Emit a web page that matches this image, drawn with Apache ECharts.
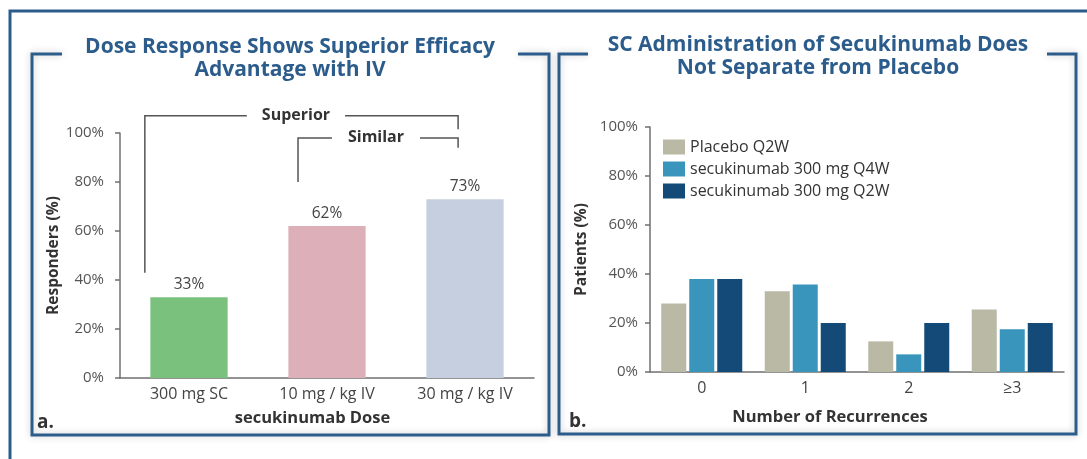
<!DOCTYPE html>
<html>
<head>
<meta charset="utf-8">
<script src="https://cdn.jsdelivr.net/npm/echarts@6/dist/echarts.min.js"></script>
<style>
  html, body { margin: 0; padding: 0; background: #fff; }
  #main { width: 1087px; height: 459px; }
</style>
</head>
<body>
<div id="main"></div>
<script>
// panel a
var doseCats = ['300 mg SC', '10 mg / kg IV', '30 mg / kg IV'];
var responders = [33, 62, 73];
var doseColors = ['#7bc17e', '#ddafb8', '#c5cfdf'];

// panel b
var recurCats = ['0', '1', '2', '≥3'];
var placeboQ2W = [28, 33, 12.5, 25.5];
var secQ4W = [38, 35.7, 7.2, 17.5];
var secQ2W = [38, 20, 20, 20];
var seriesNames = ['Placebo Q2W', 'secukinumab 300 mg Q4W', 'secukinumab 300 mg Q2W'];
var seriesColors = ['#bab9a6', '#3a95bd', '#134a78'];

var pctMin = 0, pctMax = 100, pctStep = 20;

var FONT = '"Open Sans", "Noto Sans", sans-serif';
var BLUE = '#2c5c8c';
var AXIS = '#707070';

var chart = echarts.init(document.getElementById('main'), null, { renderer: 'canvas' });

function yAx(idx, name, gap, margin) {
  return {
    gridIndex: idx, type: 'value', min: pctMin, max: pctMax, interval: pctStep,
    name: name, nameLocation: 'middle', nameGap: gap,
    nameTextStyle: { fontFamily: FONT, fontWeight: 'bold', fontSize: 15.5, color: '#333' },
    axisLine: { show: true, lineStyle: { color: AXIS, width: 1.5 } },
    axisTick: { show: true, length: 5, lineStyle: { color: AXIS, width: 1.5 } },
    axisLabel: { formatter: '{value}%', margin: margin, fontFamily: FONT, fontSize: 15, color: '#555' },
    splitLine: { show: false }
  };
}

function xAx(idx, cats, name, gap, shift) {
  return {
    gridIndex: idx, type: 'category', data: cats,
    name: name, nameLocation: 'middle', nameGap: gap,
    nameTextStyle: { fontFamily: FONT, fontWeight: 'bold', fontSize: 16.5, color: '#333', padding: [0, shift, 0, 0] },
    axisLine: { lineStyle: { color: AXIS, width: 1.5 } },
    axisTick: { show: false },
    axisLabel: { margin: 8, fontFamily: FONT, fontSize: 16, color: '#444' }
  };
}

var option = {
  animation: false,
  backgroundColor: '#fff',
  grid: [
    { left: 120, top: 133, width: 414, height: 245 },
    { left: 650, top: 127, width: 414, height: 245 }
  ],
  xAxis: [
    xAx(0, doseCats, 'secukinumab Dose', 32, 29),
    xAx(1, recurCats, 'Number of Recurrences', 37, 54)
  ],
  yAxis: [
    yAx(0, 'Responders (%)', 54, 16),
    yAx(1, 'Patients (%)', 60, 12)
  ],
  legend: {
    data: seriesNames, orient: 'vertical', left: 658, top: 134,
    itemWidth: 22, itemHeight: 15, itemGap: 6, icon: 'rect',
    textStyle: { fontFamily: FONT, fontSize: 16, color: '#333' }
  },
  series: [
    {
      type: 'bar', xAxisIndex: 0, yAxisIndex: 0, data: responders, barWidth: '56%',
      itemStyle: { color: function (p) { return doseColors[p.dataIndex]; } },
      label: { show: true, position: 'top', distance: 5, formatter: '{c}%',
        fontFamily: FONT, fontSize: 15.5, color: '#444' }
    },
    { name: seriesNames[0], type: 'bar', xAxisIndex: 1, yAxisIndex: 1, data: placeboQ2W,
      barWidth: 25, barGap: '12%', itemStyle: { color: seriesColors[0] } },
    { name: seriesNames[1], type: 'bar', xAxisIndex: 1, yAxisIndex: 1, data: secQ4W,
      barWidth: 25, barGap: '12%', itemStyle: { color: seriesColors[1] } },
    { name: seriesNames[2], type: 'bar', xAxisIndex: 1, yAxisIndex: 1, data: secQ2W,
      barWidth: 25, barGap: '12%', itemStyle: { color: seriesColors[2] } }
  ]
};
chart.setOption(option);

// frames, titles and bracket annotations
var g = [];
var frameStyle = { stroke: BLUE, lineWidth: 3, fill: null,
  shadowBlur: 7, shadowColor: 'rgba(0,0,0,0.22)' };

// outer frame
g.push({ type: 'polyline', shape: { points: [[10, 459], [10, 11], [1087, 11]] },
  style: { stroke: BLUE, lineWidth: 3, fill: null }, z: 1 });
// panel frames (gap in top edge for title)
g.push({ type: 'polyline', shape: { points: [[62, 54], [32, 54], [32, 435], [549, 435], [549, 54], [518, 54]] },
  style: frameStyle, z: 1 });
g.push({ type: 'polyline', shape: { points: [[588, 54], [559, 54], [559, 434], [1076, 434], [1076, 54], [1047, 54]] },
  style: frameStyle, z: 1 });

var titleStyle = { fontFamily: FONT, fontWeight: 'bold', fontSize: 21, fill: BLUE,
  align: 'center', verticalAlign: 'middle', lineHeight: 23 };
g.push({ type: 'text', x: 290, y: 59, style: Object.assign({ text: 'Dose Response Shows Superior Efficacy\nAdvantage with IV' }, titleStyle), z: 5 });
g.push({ type: 'text', x: 818, y: 57, style: Object.assign({ text: 'SC Administration of Secukinumab Does\nNot Separate from Placebo' }, titleStyle), z: 5 });

var tagStyle = { fontFamily: FONT, fontWeight: 'bold', fontSize: 19, fill: '#333', verticalAlign: 'middle' };
g.push({ type: 'text', x: 37, y: 423, style: Object.assign({ text: 'a.' }, tagStyle), z: 5 });
g.push({ type: 'text', x: 569, y: 422, style: Object.assign({ text: 'b.' }, tagStyle), z: 5 });

// brackets above panel a, placed relative to the category bands
function pa(cat, val) { return chart.convertToPixel({ xAxisIndex: 0, yAxisIndex: 0 }, [cat, val]); }
var c0 = pa(0, 0)[0], c1 = pa(1, 0)[0], c2 = pa(2, 0)[0];
var bw = c1 - c0;
var brStyle = { stroke: '#555', lineWidth: 1.5, fill: null };
var lblStyle = { fontFamily: FONT, fontWeight: 'bold', fontSize: 16, fill: '#333',
  align: 'center', verticalAlign: 'middle', backgroundColor: '#fff' };

var supL = c0 - 0.32 * bw, supR = c2 - 0.05 * bw;
var supY = pa(0, 107)[1];
g.push({ type: 'polyline', shape: { points: [[supL, pa(0, 43)[1]], [supL, supY], [supR, supY], [supR, pa(0, 101.5)[1]]] },
  style: brStyle, z: 3 });
g.push({ type: 'text', x: c0 + 0.775 * bw, y: supY, style: Object.assign({ text: 'Superior', padding: [0, 15] }, lblStyle), z: 4 });

var simL = c1 - 0.21 * bw, simR = supR;
var simY = pa(0, 98)[1];
g.push({ type: 'polyline', shape: { points: [[simL, pa(0, 80)[1]], [simL, simY], [simR, simY], [simR, pa(0, 94)[1]]] },
  style: brStyle, z: 3 });
g.push({ type: 'text', x: c1 + 0.355 * bw, y: simY, style: Object.assign({ text: 'Similar', padding: [0, 16] }, lblStyle), z: 4 });

chart.setOption({ graphic: { elements: g } });
</script>
</body>
</html>
